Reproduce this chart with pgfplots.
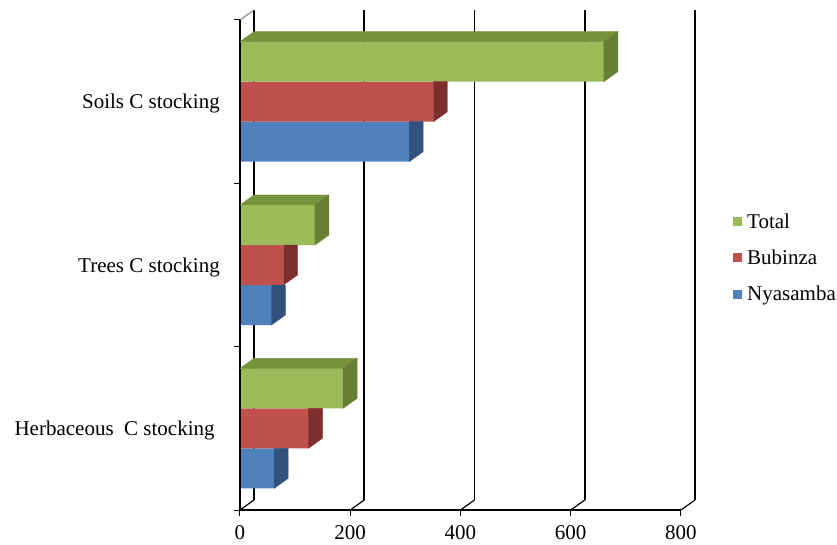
\documentclass[border=0pt]{standalone}
\usepackage{fontspec}
\setmainfont{Liberation Serif}
\usepackage{pgfplots}
\pgfplotsset{compat=1.18}
\usepackage{pgfplotstable}

% front, top and side shades of each series
\definecolor{totF}{RGB}{155,187,89}
\definecolor{totT}{RGB}{119,147,60}
\definecolor{totS}{RGB}{103,127,51}
\definecolor{bubF}{RGB}{192,80,77}
\definecolor{bubS}{RGB}{126,47,45}
\definecolor{nyaF}{RGB}{79,129,189}
\definecolor{nyaS}{RGB}{50,82,125}

% y = category position: 0.5 Herbaceous, 1.5 Trees, 2.5 Soils
\pgfplotstableread{
y   v
0.5 62
1.5 57
2.5 307
}\nyasamba
\pgfplotstableread{
y   v
0.5 124
1.5 79
2.5 351
}\bubinza
\pgfplotstableread{
y   v
0.5 187
1.5 136
2.5 660
}\total

\newcommand\xu{0.55125}% pt per x unit (441pt for 0..800)
\newcommand\dx{14}% depth offset, pt
\newcommand\dy{10}
\newcommand\bw{40}% bar thickness, pt

\pgfdeclareplotmark{nomark}{}

\pgfplotsset{
  % top and right-hand faces of the uppermost bar of each group
  box faces/.style n args={3}{%
    forget plot, only marks, mark=nomark, scatter,
    visualization depends on={\thisrow{v} \as \barlen},
    scatter/@pre marker code/.code={%
      \pgfmathsetmacro\Lpt{\barlen*\xu}%
      \pgfmathsetmacro\yb{#1-\bw/2}%
      \pgfmathsetmacro\yt{#1+\bw/2}%
      \pgfmathsetmacro\ytt{\yt+\dy}%
      \pgfmathsetmacro\ybb{\yb+\dy}%
      \pgfmathsetmacro\xl{\dx-\Lpt}%
      \fill[#2] (-\Lpt pt,\yt pt) -- (0pt,\yt pt) -- (\dx pt,\ytt pt) -- (\xl pt,\ytt pt) -- cycle;
      \fill[#3] (0pt,\yb pt) -- (\dx pt,\ybb pt) -- (\dx pt,\ytt pt) -- (0pt,\yt pt) -- cycle;
    },
    scatter/@post marker code/.code={},
  },
  % right-hand face of a lower bar, up to the bar above it
  side face/.style n args={2}{%
    forget plot, only marks, mark=nomark, scatter,
    scatter/@pre marker code/.code={%
      \pgfmathsetmacro\yb{#1-\bw/2}%
      \pgfmathsetmacro\yt{#1+\bw/2}%
      \pgfmathsetmacro\ybb{\yb+\dy}%
      \fill[#2] (0pt,\yb pt) -- (\dx pt,\ybb pt) -- (\dx pt,\yt pt) -- (0pt,\yt pt) -- cycle;
    },
    scatter/@post marker code/.code={},
  },
  sqlegend/.style={legend image code/.code={%
    \fill[##1,draw=none] (0pt,-4.5pt) rectangle (9pt,4.5pt);
    \path (12pt,0pt);}},
}

\begin{document}
\begin{tikzpicture}[font=\fontsize{21}{25}\selectfont]
\useasboundingbox (-240pt,-34pt) rectangle (597pt,510pt);
\begin{axis}[
  scale only axis,
  width=441pt, height=490pt,
  xmin=0, xmax=800, ymin=0, ymax=3,
  enlargelimits=false,
  clip=false,
  axis on top,
  axis x line*=bottom, axis y line*=left,
  axis line style={-, line width=1.3pt, black},
  tick style={line width=1pt, black},
  tick align=outside,
  major tick length=6pt,
  xtick={0,200,...,800},
  ytick={0,1,2,3},
  yticklabels={},
  extra y ticks={0.5,1.5,2.5},
  extra y tick labels={Herbaceous\ \ C stocking\hspace*{5.2pt},Trees C stocking,Soils C stocking},
  extra y tick style={major tick length=0pt, yticklabel style={anchor=east, inner sep=0pt, xshift=-20pt, yshift=-2pt}},
  xticklabel style={anchor=base, inner sep=0pt, yshift=-23pt},
  /pgf/number format/assume math mode=true,
  ticklabel style={font=\fontsize{21}{25}\selectfont},
  reverse legend,
  legend cell align=left,
  legend style={draw=none, fill=none, at={(1.1111,0.5143)}, anchor=west,
    font=\fontsize{21}{25}\selectfont, row sep=16pt},
]
% back wall and floor
\pgfplotsinvokeforeach{0,200,400,600,800}{
  \draw[black, line width=1.6pt] ([shift={(\dx pt,\dy pt)}]axis cs:#1,0) -- ([shift={(\dx pt,\dy pt)}]axis cs:#1,3);
  \draw[black, line width=1.2pt] (axis cs:#1,0) -- ([shift={(\dx pt,\dy pt)}]axis cs:#1,0);
}
\draw[gray, line width=1pt] (axis cs:0,3) -- ([shift={(\dx pt,\dy pt)}]axis cs:0,3);

\addplot[xbar, bar width=\bw pt, bar shift=-\bw pt, fill=nyaF, draw=none, sqlegend] table[x=v,y=y]{\nyasamba};
\addlegendentry{Nyasamba}
\addplot[side face={-\bw}{nyaS}] table[x=v,y=y]{\nyasamba};
\addplot[xbar, bar width=\bw pt, bar shift=0pt, fill=bubF, draw=none, sqlegend] table[x=v,y=y]{\bubinza};
\addlegendentry{Bubinza}
\addplot[side face={0}{bubS}] table[x=v,y=y]{\bubinza};
\addplot[xbar, bar width=\bw pt, bar shift=\bw pt, fill=totF, draw=none, sqlegend] table[x=v,y=y]{\total};
\addlegendentry{Total}
\addplot[box faces={\bw}{totT}{totS}] table[x=v,y=y]{\total};
\end{axis}
\end{tikzpicture}
\end{document}
